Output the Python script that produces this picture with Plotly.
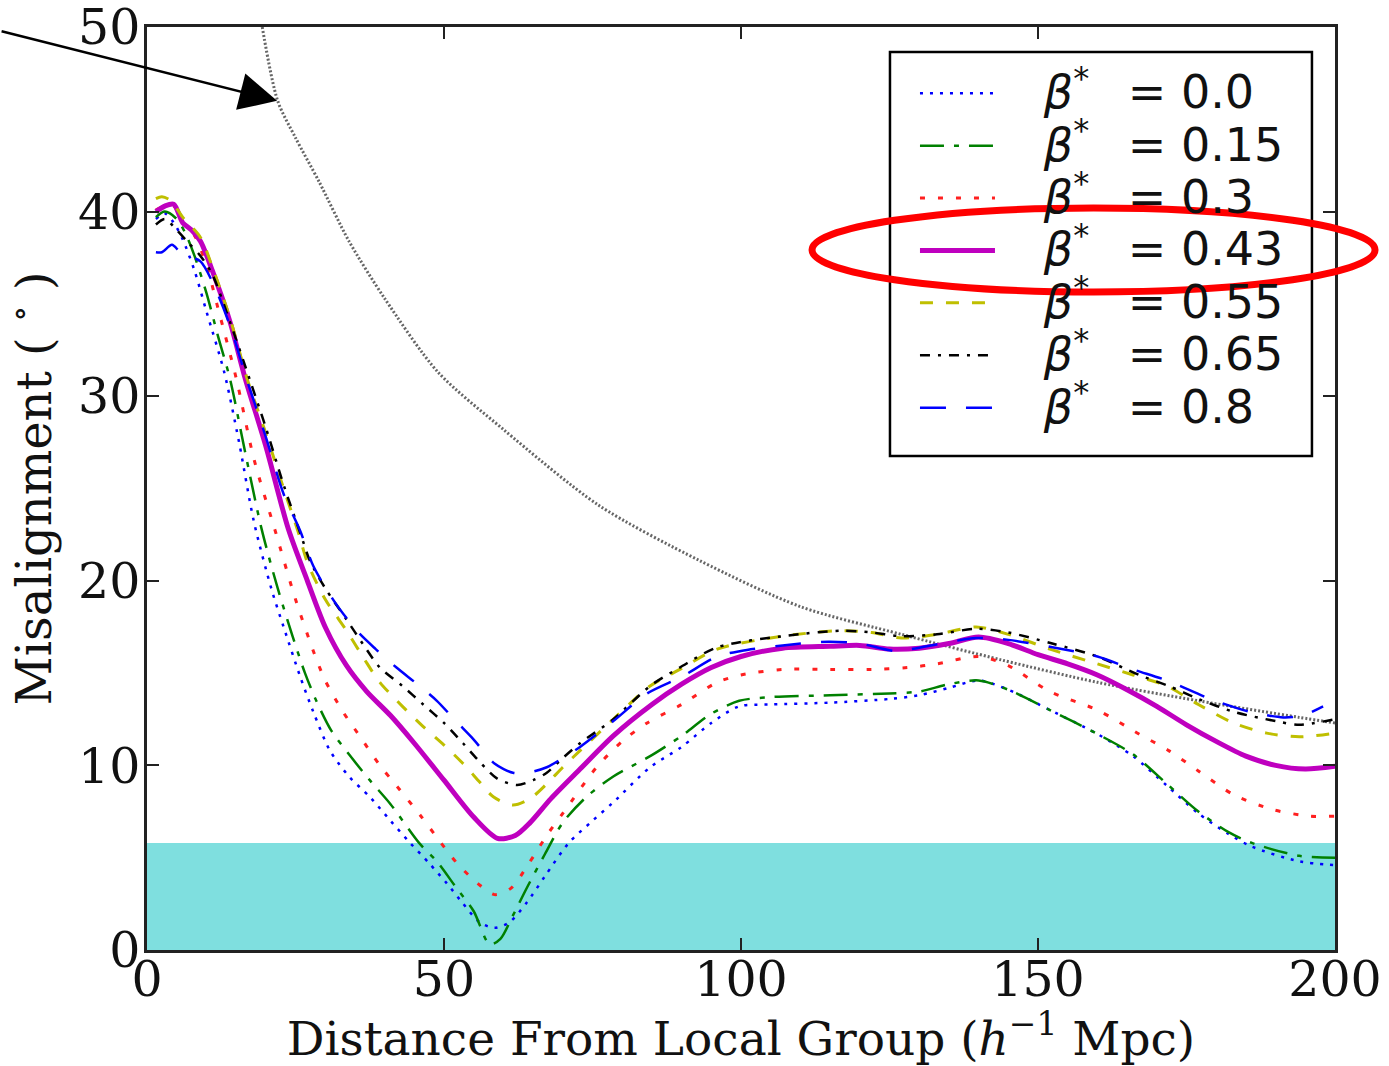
import plotly.graph_objects as go

# Misalignment angle (degrees) versus distance from the Local Group (h^-1 Mpc)
# for a range of beta* values.

dist_b000 = [1.5, 3, 4.5, 6, 8, 10, 13, 15.5, 18, 21, 23, 25.8, 28, 30.8, 34, 37.5, 41, 44.3, 47.5, 50.5,
             53, 56, 58.5, 61, 64, 67, 71, 75, 78.5, 84.7, 90, 95, 99.7, 105, 115, 125, 130, 135, 140, 145,
             152, 160, 166, 171.7, 177, 182, 186, 194, 200]
mis_b000 = [39.6, 39.9, 39.4, 38.5, 36.8, 34.6, 31.3, 27.5, 23.2, 19.5, 17.5, 14.8, 12.9, 10.8, 9.4, 8.3, 7.0,
            5.8, 4.7, 3.6, 2.6, 1.5, 1.2, 1.5, 2.6, 4.0, 5.8, 7.0, 8.0, 9.9, 11.0, 12.3, 13.2, 13.3, 13.4, 13.6,
            13.8, 14.2, 14.6, 14.1, 13.0, 11.7, 10.5, 8.9, 7.4, 6.3, 5.6, 4.8, 4.6]

dist_b015 = [1.5, 3, 5, 6.5, 8, 10, 12, 14, 16.5, 19.3, 22, 24.5, 26.6, 28.5, 31, 34, 37.5, 41, 45.8, 48.8,
             52, 55, 57.7, 59.5, 61.5, 64, 67, 70, 74, 78.5, 84.7, 90, 95, 99.7, 105, 115, 125, 130, 135, 140,
             145, 152, 160, 166, 171.7, 177, 182, 186, 194, 200]
mis_b015 = [39.7, 40.0, 39.6, 38.8, 37.6, 35.6, 33.2, 30.9, 27.0, 22.8, 19.6, 17.0, 15.0, 13.5, 11.9, 10.6,
            9.2, 7.9, 5.8, 4.8, 3.4, 2.1, 0.3, 0.6, 1.8, 3.4, 5.2, 6.9, 8.3, 9.4, 10.5, 11.6, 12.8, 13.5, 13.7,
            13.8, 13.9, 14.0, 14.4, 14.6, 14.1, 13.0, 11.7, 10.6, 9.0, 7.5, 6.4, 5.8, 5.1, 5.0]

dist_b030 = [1.5, 3, 4.5, 6, 8, 10, 12, 15, 18, 21.5, 25, 28, 30, 33, 36, 39.2, 42, 46, 49.5, 52.2, 55.7,
             58.5, 61.3, 64.3, 67.5, 70, 75.7, 80, 84.2, 90, 96, 100, 107, 115, 122, 128, 133, 140, 145, 152,
             160, 167, 172, 177, 183, 189.6, 195.8, 200]
mis_b030 = [40.1, 40.3, 40.3, 39.4, 38.7, 37.1, 34.7, 31.0, 26.6, 22.8, 19.0, 16.2, 14.6, 12.9, 11.5, 10.0,
            8.9, 7.3, 5.8, 4.7, 3.6, 3.0, 3.35, 4.7, 6.3, 7.4, 9.9, 11.3, 12.3, 13.3, 14.5, 14.9, 15.2, 15.2,
            15.2, 15.3, 15.5, 15.9, 15.4, 14.0, 13.0, 11.7, 10.8, 9.7, 8.4, 7.6, 7.25, 7.25]

dist_b043 = [1.5, 3, 4.5, 6, 7.5, 9, 11, 14, 16.5, 20, 23.8, 27, 30, 33.6, 37, 41, 45, 50, 55, 59, 62, 64.5,
             68, 72.9, 78.5, 85, 90, 95, 100, 107, 115, 120, 125, 130, 135, 140, 145, 150, 155, 160, 165, 170,
             175, 180, 185, 190, 195, 200]
mis_b043 = [40.0, 40.3, 40.4, 39.4, 39.0, 38.4, 36.8, 34.0, 31.0, 27.3, 22.8, 20.0, 17.5, 15.4, 14.0, 12.7,
            11.2, 9.2, 7.2, 6.05, 6.2, 6.9, 8.2, 9.8, 11.6, 13.3, 14.4, 15.3, 15.9, 16.35, 16.45, 16.5, 16.3,
            16.35, 16.6, 16.95, 16.6, 16.0, 15.5, 14.9, 14.1, 13.2, 12.2, 11.3, 10.5, 10.0, 9.8, 9.95]

dist_b055 = [1.5, 2.5, 4, 6, 9, 11, 14, 17, 20, 23, 25.5, 27, 30, 33.6, 36.5, 39.2, 43, 46.5, 50, 53.2, 56,
             58.3, 61.6, 64.5, 67.3, 70, 72.9, 78.5, 84.7, 89.7, 96, 107, 117, 122, 127, 133, 139.6, 145, 152,
             160, 166, 171.7, 177, 182.9, 188.5, 194, 200]
mis_b055 = [40.7, 40.8, 40.6, 39.7, 38.6, 37.0, 34.2, 30.8, 28.0, 25.0, 22.6, 21.0, 19.0, 17.3, 15.8, 14.5,
            13.2, 12.1, 11.1, 10.1, 9.1, 8.3, 7.85, 8.2, 9.0, 9.9, 10.8, 12.5, 14.3, 15.2, 16.3, 17.0, 17.3,
            17.2, 16.9, 17.1, 17.5, 17.1, 16.3, 15.5, 14.9, 14.3, 13.3, 12.3, 11.75, 11.55, 11.75]

dist_b065 = [1.5, 3, 5, 7, 9, 11, 14, 17.3, 20, 23, 26, 27.4, 30, 33.6, 36.5, 39.2, 43, 46.5, 50, 53.2, 56,
             58.9, 62.3, 65, 67.3, 70, 72.9, 78.5, 84.7, 89.7, 96, 107, 117, 122, 127, 133, 139.6, 145, 152.4,
             160, 167, 172, 177, 183, 190, 194, 200]
mis_b065 = [39.3, 39.6, 39.0, 38.3, 37.6, 36.6, 34.0, 30.9, 28.3, 25.2, 22.4, 21.1, 19.6, 17.9, 16.5, 15.3,
            14.3, 13.3, 12.3, 11.2, 10.2, 9.3, 8.94, 9.2, 9.6, 10.4, 11.2, 12.5, 14.3, 15.3, 16.4, 17.0, 17.3,
            17.2, 17.0, 17.1, 17.4, 17.2, 16.6, 15.9, 14.9, 14.3, 13.6, 12.9, 12.4, 12.2, 12.5]

dist_b080 = [1.5, 2.5, 4.2, 5.6, 7, 9, 11, 14, 16.8, 20, 23, 25.8, 28, 31.5, 35.3, 38.5, 42, 45.5, 48.8, 52,
             55, 58.5, 61.6, 64, 67.3, 70, 72.9, 78.5, 84.2, 90, 96, 100, 107, 114.7, 120, 126, 132, 139.6, 145,
             152.4, 160, 166, 171.7, 179, 185.7, 191.3, 194.5, 198]
mis_b080 = [37.8, 37.8, 38.2, 37.8, 37.6, 37.3, 36.2, 33.8, 30.9, 27.8, 24.7, 22.7, 20.8, 18.9, 17.3, 16.3,
            15.3, 14.4, 13.5, 12.4, 11.4, 10.1, 9.6, 9.6, 9.9, 10.4, 11.0, 12.4, 13.9, 14.8, 15.9, 16.2, 16.5,
            16.7, 16.6, 16.2, 16.5, 16.9, 16.8, 16.4, 15.9, 15.2, 14.6, 13.6, 12.9, 12.6, 12.7, 13.2]

# grey reference curve
dist_ref = [19.4, 22, 25, 29, 34, 40, 49, 60, 76, 93, 110, 127, 144, 160, 177, 194, 200]
mis_ref = [50.0, 46.0, 44.0, 41.6, 38.4, 35.3, 31.3, 28.2, 24.1, 21.1, 18.6, 17.1, 15.7, 14.5, 13.5, 12.6, 12.3]

# shaded band upper limit (degrees)
band_top = 5.8

beta_labels = ["0.0", "0.15", "0.3", "0.43", "0.55", "0.65", "0.8"]

series = [
    (dist_b000, mis_b000, "#0000ff", 2.5, "3px,7px"),
    (dist_b015, mis_b015, "#008000", 2.5, "24px,10px,5px,10px"),
    (dist_b030, mis_b030, "#ff2020", 3.0, "5px,13px"),
    (dist_b043, mis_b043, "#bf00bf", 5.0, "solid"),
    (dist_b055, mis_b055, "#bfbf00", 3.0, "13px,13px"),
    (dist_b065, mis_b065, "#000000", 2.5, "10px,8px,3px,8px"),
    (dist_b080, mis_b080, "#0000ff", 2.5, "26px,20px"),
]

NB = "\u00a0"

fig = go.Figure()

fig.add_trace(go.Scatter(
    x=dist_ref, y=mis_ref, mode="lines", showlegend=False,
    line=dict(color="#666666", width=3, dash="2px,2px", shape="spline", smoothing=0.8),
))

for (xs, ys, col, w, dash), lab in zip(series, beta_labels):
    label = ('<span style="font-size:46px">' + NB * 3 + "<i>β</i><sup>*</sup>" + NB * 2 + "\u2009"
             + "=" + NB + lab + NB + "</span>")
    fig.add_trace(go.Scatter(
        x=xs, y=ys, mode="lines", name=label,
        line=dict(color=col, width=w, dash=dash, shape="spline", smoothing=0.8),
    ))

fig.add_shape(type="rect", xref="paper", yref="y", x0=0, x1=1, y0=0, y1=band_top,
              fillcolor="#7fdfdf", line=dict(width=0), layer="below")

# frame of the legend box
fig.add_shape(type="rect", xref="paper", yref="paper",
              x0=0.6254, x1=0.9806, y0=0.5352, y1=0.9729,
              line=dict(color="#000000", width=2.5), fillcolor="rgba(0,0,0,0)", layer="above")

# highlight around the beta* = 0.43 legend entry
fig.add_shape(type="circle", xref="paper", yref="paper",
              x0=0.5598, x1=1.0337, y0=0.7129, y1=0.8039,
              line=dict(color="#ff0000", width=7), layer="above")

# arrow pointing at the grey curve
fig.add_annotation(x=21.9, y=46.0, xref="x", yref="y", text="", showarrow=True,
                   ax=-277, ay=-70, arrowhead=2, arrowsize=3.0, arrowwidth=2.5,
                   arrowcolor="#000000", standoff=0)

axis_common = dict(
    showline=True, linecolor="#222222", linewidth=2.5, mirror="allticks",
    ticks="inside", ticklen=12, tickwidth=1.5, tickcolor="#222222",
    showgrid=False, zeroline=False, ticklabeloverflow="allow",
    tickfont=dict(family="DejaVu Serif", size=49, color="#111111"),
)

fig.update_xaxes(range=[0, 200], tickvals=[0, 50, 100, 150, 200], ticklabelstandoff=-16,
                 title=dict(text="Distance From Local Group (<i>h</i><sup>−1</sup> Mpc)",
                            font=dict(family="DejaVu Serif", size=47, color="#111111"), standoff=34),
                 **axis_common)
fig.update_yaxes(range=[0, 50], tickvals=[0, 10, 20, 30, 40, 50], ticklabelstandoff=-6,
                 title=dict(text="Misalignment (" + NB + "<sup>∘</sup>" + NB + ")",
                            font=dict(family="DejaVu Serif", size=48, color="#111111"), standoff=20),
                 **axis_common)

fig.update_layout(
    width=1389, height=1066,
    margin=dict(l=147, r=54, t=27, b=116, autoexpand=False),
    plot_bgcolor="white", paper_bgcolor="white",
    showlegend=True,
    legend=dict(x=0.6254, y=0.962, xanchor="left", yanchor="top",
                itemwidth=75, indentation=25,
                bgcolor="rgba(255,255,255,0)", borderwidth=0,
                font=dict(family="DejaVu Sans", size=38, color="#111111")),
)

fig.write_html("out.html")
